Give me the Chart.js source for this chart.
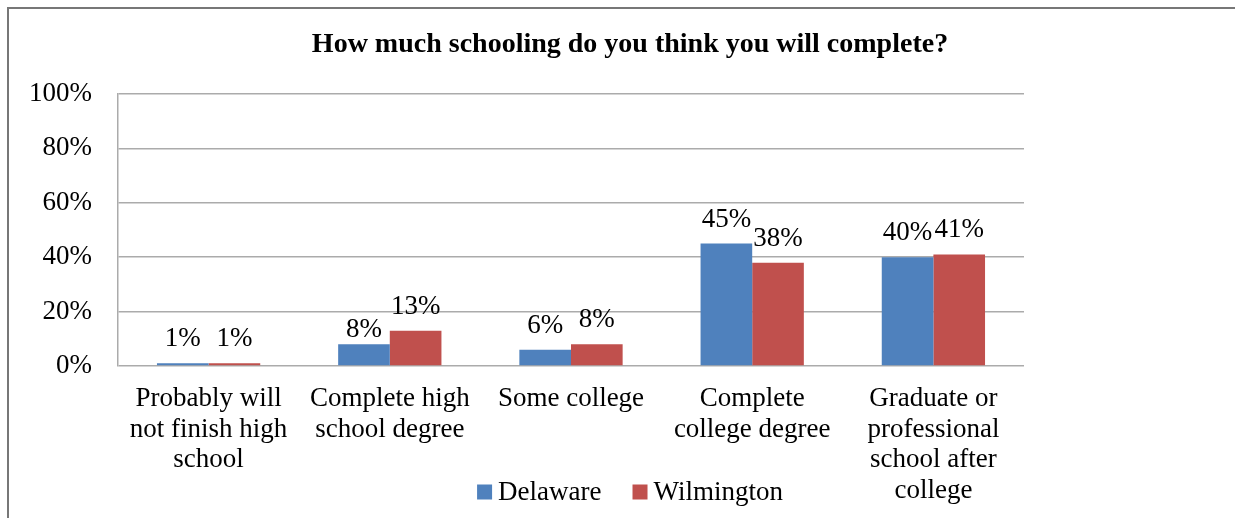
<!DOCTYPE html>
<html>
<head>
<meta charset="utf-8">
<script src="https://cdn.jsdelivr.net/npm/chart.js@4.4.1/dist/chart.umd.min.js"></script>
<style>
  body { margin: 0; overflow: hidden; background: #fff; }
  #frame { position: absolute; left: 7px; top: 7px; width: 1400px; height: 700px;
           border-left: 2px solid #777; border-top: 2px solid #777; }
  #wrap { position: absolute; left: 0; top: 0; }
</style>
</head>
<body>
<div id="frame"></div>
<div id="wrap"><canvas id="chart1" width="1260" height="518"></canvas></div>
<script>
const categories = [
    ['Probably will', 'not finish high', 'school'],
    ['Complete high', 'school degree'],
    ['Some college'],
    ['Complete', 'college degree'],
    ['Graduate or', 'professional', 'school after', 'college']
];
const delaware = [1, 8, 6, 45, 40];
const wilmington = [1, 13, 8, 38, 41];
const yTicks = [0, 20, 40, 60, 80, 100];

const serif = "'Liberation Serif', 'Times New Roman', serif";

// labels above the bars, like excel does it
const barLabels = {
    id: 'barLabels',
    afterDatasetsDraw(chart, args, opts) {
        const ctx = chart.ctx;
        ctx.save();
        ctx.font = '27px ' + serif;
        ctx.fillStyle = '#000';
        ctx.textAlign = 'center';
        ctx.textBaseline = 'alphabetic';
        chart.data.datasets.forEach((ds, i) => {
            chart.getDatasetMeta(i).data.forEach((bar, j) => {
                const nudge = (opts.nudge || {})[i + '-' + j] || 0;
                ctx.fillText(ds.data[j] + '%', bar.x, bar.y - 17 + nudge);
            });
        });
        ctx.restore();
    }
};

// legend drawn by hand so it can sit over the axis labels
const bottomLegend = {
    id: 'bottomLegend',
    afterDraw(chart) {
        const ctx = chart.ctx;
        const box = 15, gap = 6, spacing = 31, y = 492;
        ctx.save();
        ctx.font = '27px ' + serif;
        ctx.textBaseline = 'middle';
        ctx.textAlign = 'left';
        const items = chart.data.datasets.map(ds => ({
            text: ds.label, color: ds.backgroundColor, w: ctx.measureText(ds.label).width
        }));
        let total = 0;
        items.forEach((it, i) => { total += box + gap + it.w + (i ? spacing : 0); });
        let x = chart.width / 2 - total / 2;
        items.forEach(it => {
            ctx.fillStyle = it.color;
            ctx.fillRect(x, y - box / 2, box, box);
            ctx.fillStyle = '#000';
            ctx.fillText(it.text, x + box + gap, y + 1);
            x += box + gap + it.w + spacing;
        });
        ctx.restore();
    }
};

const Chart1 = new Chart(document.getElementById('chart1'), {
    type: 'bar',
    data: {
        labels: categories,
        datasets: [{
            label: 'Delaware',
            data: delaware,
            backgroundColor: '#4F81BD'
        }, {
            label: 'Wilmington',
            data: wilmington,
            backgroundColor: '#C0504D'
        }]
    },
    options: {
        responsive: false,
        animation: false,
        categoryPercentage: 0.57,
        barPercentage: 1.0,
        layout: { padding: { left: 0, right: 0, top: 0, bottom: 0 } },
        plugins: {
            title: {
                display: true,
                text: 'How much schooling do you think you will complete?',
                color: '#000',
                font: { family: serif, size: 28, weight: 'bold', lineHeight: 1.2 },
                padding: { top: 28, bottom: 32.4 }
            },
            legend: { display: false },
            tooltip: { enabled: false },
            barLabels: { nudge: { '0-1': 10 } }
        },
        scales: {
            x: {
                grid: { display: false, drawTicks: false },
                border: { display: false },
                ticks: {
                    color: '#000',
                    font: { family: serif, size: 27, lineHeight: 1.13 },
                    padding: 18,
                    maxRotation: 0,
                    autoSkip: false
                },
                afterFit: (s) => { s.height = 152; }
            },
            y: {
                min: 0,
                max: 100,
                afterBuildTicks: (s) => { s.ticks = yTicks.map(v => ({ value: v })); },
                grid: { color: '#ababab', lineWidth: 1.5, drawTicks: false },
                border: { display: true, color: '#ababab', width: 1.5 },
                ticks: {
                    color: '#000',
                    font: { family: serif, size: 27 },
                    padding: 26,
                    callback: (v) => v + '%'
                },
                afterFit: (s) => { s.width = 118; }
            },
            yRight: {
                position: 'right',
                grid: { display: false, drawTicks: false },
                border: { display: false },
                ticks: { display: false },
                afterFit: (s) => { s.width = 236; }
            }
        }
    },
    plugins: [barLabels, bottomLegend]
});
</script>
</body>
</html>
